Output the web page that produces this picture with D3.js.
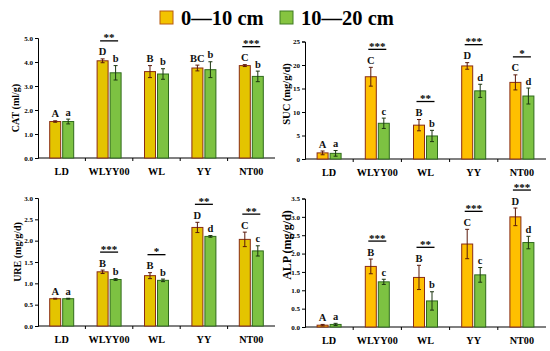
<!DOCTYPE html>
<html>
<head>
<meta charset="utf-8">
<script src="https://cdn.jsdelivr.net/npm/d3@7"></script>
<style>
  body { margin: 0; background: #fff; }
  text { font-family: "Liberation Serif", "Times New Roman", serif; font-weight: bold; }
</style>
</head>
<body>
<div id="chart-area"></div>
<script>
// values
var categories = ["LD", "WLYY00", "WL", "YY", "NT00"];
var depths = ["0\u201410 cm", "10\u201420 cm"];

var catTop = [1.52, 4.05, 3.60, 3.75, 3.85];
var catTopErr = [0.03, 0.08, 0.25, 0.12, 0.04];
var catSub = [1.52, 3.55, 3.50, 3.68, 3.40];
var catSubErr = [0.10, 0.30, 0.22, 0.33, 0.22];
var catLetters = [["A", "a"], ["D", "b"], ["B", "b"], ["BC", "b"], ["C", "b"]];
var catStars = ["", "**", "", "", "***"];

var sucTop = [1.3, 17.5, 7.2, 19.8, 16.3];
var sucTopErr = [0.4, 2.0, 1.2, 0.7, 1.6];
var sucSub = [1.2, 7.6, 4.9, 14.5, 13.4];
var sucSubErr = [0.6, 1.1, 1.2, 1.4, 1.7];
var sucLetters = [["A", "a"], ["C", "c"], ["B", "b"], ["D", "d"], ["C", "d"]];
var sucStars = ["", "***", "**", "***", "*"];

var ureTop = [0.64, 1.27, 1.18, 2.31, 2.03];
var ureTopErr = [0.01, 0.04, 0.07, 0.12, 0.17];
var ureSub = [0.64, 1.09, 1.07, 2.10, 1.76];
var ureSubErr = [0.01, 0.02, 0.03, 0.02, 0.12];
var ureLetters = [["A", "a"], ["B", "b"], ["B", "b"], ["D", "d"], ["C", "c"]];
var ureStars = ["", "***", "*", "**", "**"];

var alpTop = [0.05, 1.65, 1.35, 2.26, 3.00];
var alpTopErr = [0.02, 0.20, 0.33, 0.40, 0.24];
var alpSub = [0.07, 1.23, 0.71, 1.42, 2.30];
var alpSubErr = [0.03, 0.07, 0.25, 0.20, 0.17];
var alpLetters = [["A", "a"], ["B", "c"], ["B", "b"], ["C", "c"], ["D", "d"]];
var alpStars = ["", "***", "**", "***", "***"];

var svg = d3.select("#chart-area")
    .append("svg")
    .attr("width", 550)
    .attr("height", 351);

// legend
var legendColors = [["#f3c300", "#b85a10"], ["#86c440", "#3f7a22"]];
var legendX = [160, 280];
depths.forEach(function(d, i){
    svg.append("rect")
        .attr("x", legendX[i]).attr("y", 11)
        .attr("width", 13).attr("height", 13)
        .attr("fill", legendColors[i][0])
        .attr("stroke", legendColors[i][1])
        .attr("stroke-width", 1);
    svg.append("text")
        .attr("x", legendX[i] + 21).attr("y", 25)
        .attr("font-size", "20.5px")
        .text(d);
});

var panels = [
    { title: "CAT (ml/g)", top: catTop, topErr: catTopErr, sub: catSub, subErr: catSubErr,
      letters: catLetters, stars: catStars, max: 5, step: 1, fmt: ".1f",
      left: 38, right: 275, bottom: 158, ytop: 38, fill0: "#e4c400",
      titleX: 18.5, titleY: 108, titleSize: 10 },
    { title: "SUC (mg/g/d)", top: sucTop, topErr: sucTopErr, sub: sucSub, subErr: sucSubErr,
      letters: sucLetters, stars: sucStars, max: 25, step: 5, fmt: "d",
      left: 305, right: 546, bottom: 159, ytop: 41.5, fill0: "#ffc000",
      titleX: 290, titleY: 94, titleSize: 10.5 },
    { title: "URE (mg/g/d)", top: ureTop, topErr: ureTopErr, sub: ureSub, subErr: ureSubErr,
      letters: ureLetters, stars: ureStars, max: 3, step: 0.5, fmt: ".1f",
      left: 38, right: 275, bottom: 326, ytop: 198, fill0: "#e4c400",
      titleX: 20.5, titleY: 252, titleSize: 10 },
    { title: "ALP (mg/g/d)", top: alpTop, topErr: alpTopErr, sub: alpSub, subErr: alpSubErr,
      letters: alpLetters, stars: alpStars, max: 3.5, step: 0.5, fmt: ".1f",
      left: 305, right: 546, bottom: 327, ytop: 198.5, fill0: "#ffc000",
      titleX: 291, titleY: 245, titleSize: 12 }
];

panels.forEach(function(p){
    var g = svg.append("g");

    var x = d3.scaleBand()
        .domain(categories)
        .range([p.left, p.right]);

    var xSub = d3.scaleBand()
        .domain(depths)
        .range([-12, 12])
        .paddingInner(0.154);

    var y = d3.scaleLinear()
        .domain([0, p.max])
        .range([p.bottom, p.ytop]);

    var tickVals = d3.range(0, p.max + p.step / 2, p.step);
    var yAxisCall = d3.axisLeft(y)
        .tickValues(tickVals)
        .tickSize(3)
        .tickPadding(2)
        .tickFormat(d3.format(p.fmt));
    var yAxis = g.append("g")
        .attr("transform", "translate(" + p.left + ",0)")
        .call(yAxisCall);
    yAxis.selectAll("text").attr("font-size", "7px").attr("font-weight", "bold")
        .attr("font-family", "Liberation Serif, serif");

    g.append("line")
        .attr("x1", p.left).attr("x2", p.right)
        .attr("y1", p.bottom).attr("y2", p.bottom)
        .attr("stroke", "#000");

    categories.slice(1).forEach(function(c){
        g.append("line")
            .attr("x1", x(c)).attr("x2", x(c))
            .attr("y1", p.bottom).attr("y2", p.bottom + 3)
            .attr("stroke", "#000");
    });

    g.selectAll(".cat-label")
        .data(categories)
        .enter().append("text")
        .attr("x", function(d){ return x(d) + x.bandwidth() / 2; })
        .attr("y", p.bottom + 17)
        .attr("text-anchor", "middle")
        .attr("font-size", "10.2px")
        .text(function(d){ return d; });

    g.append("text")
        .attr("transform", "translate(" + p.titleX + "," + p.titleY + ") rotate(-90)")
        .attr("text-anchor", "middle")
        .attr("font-size", p.titleSize + "px")
        .text(p.title);

    var rows = [];
    categories.forEach(function(c, i){
        rows.push({ cat: c, i: i, s: 0, v: p.top[i], e: p.topErr[i], l: p.letters[i][0] });
        rows.push({ cat: c, i: i, s: 1, v: p.sub[i], e: p.subErr[i], l: p.letters[i][1] });
    });

    function cx(d){ return x(d.cat) + x.bandwidth() / 2 + xSub(depths[d.s]); }

    g.selectAll(".bar")
        .data(rows)
        .enter().append("rect")
        .attr("x", cx)
        .attr("y", function(d){ return y(d.v); })
        .attr("width", xSub.bandwidth())
        .attr("height", function(d){ return p.bottom - y(d.v); })
        .attr("fill", function(d){ return d.s === 0 ? p.fill0 : "#7dc242"; })
        .attr("stroke", function(d){ return d.s === 0 ? "#8a2c14" : "#2f6a1c"; })
        .attr("stroke-width", 1);

    // error bars
    rows.forEach(function(d){
        var mx = cx(d) + xSub.bandwidth() / 2;
        var col = d.s === 0 ? "#5a1a0c" : "#1c3510";
        g.append("line")
            .attr("x1", mx).attr("x2", mx)
            .attr("y1", y(d.v - d.e)).attr("y2", y(d.v + d.e))
            .attr("stroke", col);
        [d.v - d.e, d.v + d.e].forEach(function(v){
            g.append("line")
                .attr("x1", mx - 2).attr("x2", mx + 2)
                .attr("y1", y(v)).attr("y2", y(v))
                .attr("stroke", col);
        });
        g.append("text")
            .attr("x", mx)
            .attr("y", y(d.v + d.e) - 3.5)
            .attr("text-anchor", "middle")
            .attr("font-size", "10.5px")
            .attr("fill", "#111")
            .text(d.l);
    });

    // significance marks
    categories.forEach(function(c, i){
        if (!p.stars[i]) return;
        var topV = Math.max(p.top[i] + p.topErr[i], p.sub[i] + p.subErr[i]);
        var ly = y(topV) - 18;
        var mid = x(c) + x.bandwidth() / 2;
        g.append("line")
            .attr("x1", mid - 9).attr("x2", mid + 9)
            .attr("y1", ly).attr("y2", ly)
            .attr("stroke", "#000")
            .attr("stroke-width", 1.3);
        g.append("text")
            .attr("x", mid)
            .attr("y", ly + 0.5)
            .attr("text-anchor", "middle")
            .attr("font-size", "11px")
            .text(p.stars[i]);
    });
});
</script>
</body>
</html>
